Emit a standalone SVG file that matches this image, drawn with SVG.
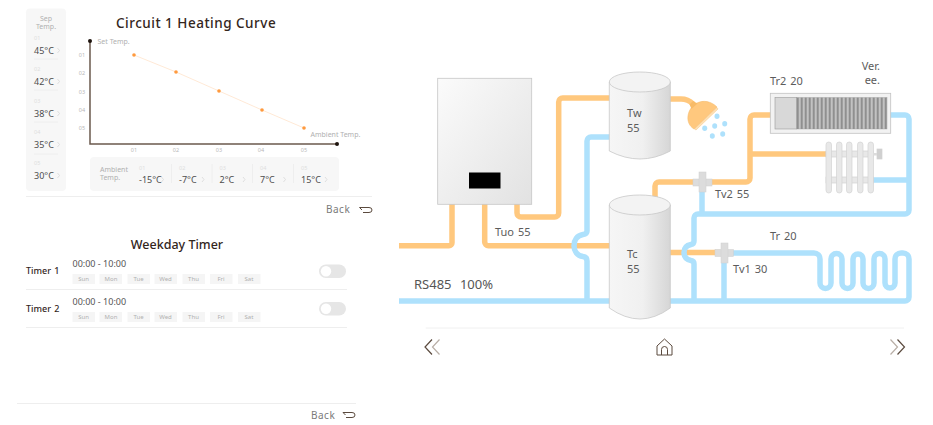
<svg xmlns="http://www.w3.org/2000/svg" width="933" height="425" viewBox="0 0 933 425">
<style>
text{font-family:"Noto Sans","Liberation Sans",sans-serif;fill:#555}
.t{fill:#33261c;font-weight:500;letter-spacing:.5px}
.lab{font-size:11px;fill:#5c5c5c;word-spacing:1px}
.mute{font-size:5.5px;fill:#dedede}
.ax{font-size:5.5px;fill:#b8b8b8;text-anchor:middle}
.cap{font-size:7px;fill:#b0b0b0}
.val{font-size:9px;fill:#4d4d4d}
.chev{fill:none;stroke:#d4d4d4;stroke-width:.7}
.panel{fill:#f7f7f7}
.rule{stroke:#eeeeee;stroke-width:1}
.pill{fill:#f5f5f5}
.day{font-size:6px;fill:#b0b0b0;text-anchor:middle}
.time{font-size:9px;fill:#555}
.name{font-size:9px;fill:#33261c;font-weight:500;word-spacing:1px}
.back{font-size:10px;fill:#7a7a7a;letter-spacing:.5px}
.ic{fill:none;stroke:#5b4a3e;stroke-width:1}
.or{fill:none;stroke:#ffc87e;stroke-width:5.500;stroke-linejoin:round}
.bl{fill:none;stroke:#aee1fc;stroke-width:5.500;stroke-linejoin:round}
.tank{fill:url(#tg);stroke:#c8c8c8;stroke-width:.8}
.top{fill:#f3f3f3;stroke:#c8c8c8;stroke-width:.8}
.fin{fill:#e8e8e8;stroke:#d2d2d2;stroke-width:.7}
.vv{fill:#dcdcdc;stroke:#d0d0d0;stroke-width:.5}
.drop{fill:#aee1fc}
</style>
<defs>
<linearGradient id="tg" x1="0" x2="1" y1="0" y2="0"><stop offset="0" stop-color="#f6f6f6"/><stop offset=".55" stop-color="#f0f0f0"/><stop offset="1" stop-color="#d6d6d6"/></linearGradient>
<linearGradient id="bg" x1="0" x2="1" y1="0" y2="1"><stop offset="0" stop-color="#fbfbfb"/><stop offset="1" stop-color="#e2e2e2"/></linearGradient>
<pattern id="st" width="4" height="10" patternUnits="userSpaceOnUse" x="796.500"><rect width="4" height="10" fill="#d8d8d8"/><rect width="2.600" height="10" fill="#8f8f8f"/></pattern>
</defs>
<rect width="933" height="425" fill="#fff"/>

<g id="curve-panel">
<text class="t" x="116" y="28" font-size="13.500">Circuit 1 Heating Curve</text>
<rect class="panel" x="26" y="8.500" width="40" height="182.500" rx="4"/>
<text class="cap" x="46" y="21" text-anchor="middle" font-size="6.500">Sep</text>
<text class="cap" x="46" y="29" text-anchor="middle">Temp.</text>
<g>
<text class="mute" x="34" y="40">01</text><text class="val" x="34" y="54">45°C</text><path class="chev" d="M57.500 48l2 2.500l-2 2.500"/><line class="rule" x1="34" x2="58" y1="59" y2="59"/>
<text class="mute" x="34" y="71">02</text><text class="val" x="34" y="85">42°C</text><path class="chev" d="M57.500 79l2 2.500l-2 2.500"/><line class="rule" x1="34" x2="58" y1="90" y2="90"/>
<text class="mute" x="34" y="103">03</text><text class="val" x="34" y="117">38°C</text><path class="chev" d="M57.500 111l2 2.500l-2 2.500"/><line class="rule" x1="34" x2="58" y1="122" y2="122"/>
<text class="mute" x="34" y="134">04</text><text class="val" x="34" y="148">35°C</text><path class="chev" d="M57.500 142l2 2.500l-2 2.500"/><line class="rule" x1="34" x2="58" y1="154" y2="154"/>
<text class="mute" x="34" y="165">05</text><text class="val" x="34" y="179">30°C</text><path class="chev" d="M57.500 173l2 2.500l-2 2.500"/>
</g>
<path d="M90 41V144H337" fill="none" stroke="#6b5a4e" stroke-width="1.500"/>
<circle cx="90" cy="41" r="2" fill="#1e140e"/><circle cx="337" cy="144" r="2" fill="#1e140e"/>
<text class="cap" x="97.500" y="44">Set Temp.</text>
<text class="cap" x="310.500" y="137">Ambient Temp.</text>
<polyline points="134,55 176,72 219,91 262,110 304,128" fill="none" stroke="#ffe3cb" stroke-width=".8"/>
<g fill="#ff9a3e"><circle cx="134" cy="55" r="1.800"/><circle cx="176" cy="72" r="1.800"/><circle cx="219" cy="91" r="1.800"/><circle cx="262" cy="110" r="1.800"/><circle cx="304" cy="128" r="1.800"/></g>
<text class="ax" x="82" y="57">01</text><text class="ax" x="82" y="75">02</text><text class="ax" x="82" y="94">03</text><text class="ax" x="82" y="112">04</text><text class="ax" x="82" y="130">05</text>
<text class="ax" x="134" y="152">01</text><text class="ax" x="176" y="152">02</text><text class="ax" x="219" y="152">03</text><text class="ax" x="261" y="152">04</text><text class="ax" x="304" y="152">05</text>
<rect class="panel" x="90" y="157" width="249" height="34" rx="4"/>
<text class="cap" x="100" y="172">Ambient</text><text class="cap" x="100" y="180">Temp.</text>
<text class="mute" x="139" y="170">01</text><text class="val" x="139" y="183">-15°C</text><path class="chev" d="M161.500 177l2 2.500l-2 2.500"/><line class="rule" x1="171.500" x2="171.500" y1="164" y2="183"/>
<text class="mute" x="179" y="170">02</text><text class="val" x="179" y="183">-7°C</text><path class="chev" d="M202 177l2 2.500l-2 2.500"/><line class="rule" x1="212" x2="212" y1="164" y2="183"/>
<text class="mute" x="219.500" y="170">03</text><text class="val" x="219.500" y="183">2°C</text><path class="chev" d="M243 177l2 2.500l-2 2.500"/><line class="rule" x1="252.500" x2="252.500" y1="164" y2="183"/>
<text class="mute" x="260" y="170">04</text><text class="val" x="260" y="183">7°C</text><path class="chev" d="M283.500 177l2 2.500l-2 2.500"/><line class="rule" x1="293.500" x2="293.500" y1="164" y2="183"/>
<text class="mute" x="301" y="170">05</text><text class="val" x="301" y="183">15°C</text><path class="chev" d="M325 177l2 2.500l-2 2.500"/>
<line class="rule" x1="26" x2="372" y1="196.500" y2="196.500"/>
<text class="back" x="326" y="213">Back</text>
<path class="ic" d="M364 207.500h-4.500l2.500 2.500M360 207.500h9q3 0 3 2.500t-3 2.500h-6"/>
</g>

<g id="timer-panel">
<text class="t" x="177" y="249" font-size="12.500" text-anchor="middle" style="letter-spacing:0">Weekday Timer</text>
<g id="timer-1">
<text class="name" x="26" y="274">Timer 1</text>
<text class="time" x="72.500" y="267">00:00 - 10:00</text>
<rect class="pill" x="72.500" y="274" width="22.500" height="10"/><text class="day" x="83.500" y="281">Sun</text>
<rect class="pill" x="99.500" y="274" width="22.500" height="10"/><text class="day" x="111" y="281">Mon</text>
<rect class="pill" x="127.500" y="274" width="22.500" height="10"/><text class="day" x="138.500" y="281">Tue</text>
<rect class="pill" x="154.500" y="274" width="22.500" height="10"/><text class="day" x="165.500" y="281">Wed</text>
<rect class="pill" x="182.500" y="274" width="22.500" height="10"/><text class="day" x="193.500" y="281">Thu</text>
<rect class="pill" x="210" y="274" width="22.500" height="10"/><text class="day" x="221" y="281">Fri</text>
<rect class="pill" x="238" y="274" width="22.500" height="10"/><text class="day" x="249" y="281">Sat</text>
<rect x="319" y="264.500" width="27" height="13.500" rx="6.750" fill="#e6e6e6"/><circle cx="326" cy="271.200" r="5.200" fill="#fff"/>
<line class="rule" x1="26" x2="347" y1="289.500" y2="289.500"/>
</g>
<g id="timer-2">
<text class="name" x="26" y="312">Timer 2</text>
<text class="time" x="72.500" y="305">00:00 - 10:00</text>
<rect class="pill" x="72.500" y="312" width="22.500" height="10"/><text class="day" x="83.500" y="319">Sun</text>
<rect class="pill" x="99.500" y="312" width="22.500" height="10"/><text class="day" x="111" y="319">Mon</text>
<rect class="pill" x="127.500" y="312" width="22.500" height="10"/><text class="day" x="138.500" y="319">Tue</text>
<rect class="pill" x="154.500" y="312" width="22.500" height="10"/><text class="day" x="165.500" y="319">Wed</text>
<rect class="pill" x="182.500" y="312" width="22.500" height="10"/><text class="day" x="193.500" y="319">Thu</text>
<rect class="pill" x="210" y="312" width="22.500" height="10"/><text class="day" x="221" y="319">Fri</text>
<rect class="pill" x="238" y="312" width="22.500" height="10"/><text class="day" x="249" y="319">Sat</text>
<rect x="319" y="302" width="27" height="13.500" rx="6.750" fill="#e6e6e6"/><circle cx="326" cy="308.700" r="5.200" fill="#fff"/>
<line class="rule" x1="26" x2="347" y1="327.500" y2="327.500"/>
</g>
<line class="rule" x1="17" x2="356" y1="403.500" y2="403.500"/>
<text class="back" x="311" y="419">Back</text>
<path class="ic" d="M347 412.500h-4l2.500 2.500M343 412.500h9q3 0 3 2.500t-3 2.500h-6"/>
</g>

<g id="connectors">
<path class="or" d="M399 245.700H449a3 3 0 0 0 3-3V204"/>
<path class="or" d="M484.700 204V242a3.700 3.700 0 0 0 3.700 3.700H612"/>
<path class="or" d="M517 204V213a4 4 0 0 0 4 4H554.700a4 4 0 0 0 4-4V102a4 4 0 0 1 4-4H612"/>
<path class="or" d="M655 206V186a4 4 0 0 1 4-4H746a4 4 0 0 0 4-4V119a4 4 0 0 1 4-4H772"/>
<path class="or" d="M750 154H828"/>
<path class="or" d="M668 99H681q7 0 12 5"/>
<path class="or" d="M668 252.500H720"/>
<path class="bl" d="M612 137H591a4 4 0 0 0-4 4V231Q587 234 583 234.500C577 235.500 574 240 574 245.700C574 251 577 255.500 583 256.500Q587 257 587 261V301"/>
<path class="bl" d="M399 301H612"/>
<path class="bl" d="M702 186V214"/>
<path class="bl" d="M888 115H905a4 4 0 0 1 4 4V210a4 4 0 0 1-4 4H698a4 4 0 0 0-4 4V241Q694 244 691 244.500C686 245.500 684 249 684 252.500C684 256 686 259.500 691 260.500Q694 261 694 264V301"/>
<path class="bl" d="M870 180H909"/>
<path class="bl" d="M724 253H814a6 6 0 0 1 6 6V283a5.500 5.500 0 0 0 11 0V259a5.500 5.500 0 0 1 11 0V283a5.500 5.500 0 0 0 11 0V259a5 5 0 0 1 10 0V283a5.500 5.500 0 0 0 11 0V259a5.500 5.500 0 0 1 11 0V283a5 5 0 0 0 10 0V259a6 6 0 0 1 6-6H903a6 6 0 0 1 6 6V297a4 4 0 0 1-4 4H668"/>
<path class="bl" d="M724 253V301"/>
</g>

<g id="boiler">
<rect x="437.700" y="78.300" width="94" height="126" fill="url(#bg)" stroke="#c6c6c6" stroke-width=".8"/>
<rect x="469" y="172.500" width="31.500" height="16" fill="#000"/>
</g>
<g id="tank-tw">
<path class="tank" d="M609.300 82V151Q625 159 640 159T670.300 151V82Z"/>
<ellipse class="top" cx="639.800" cy="82" rx="30.500" ry="10"/>
<text class="lab" x="627" y="117">Tw</text><text class="lab" x="627" y="132">55</text>
</g>
<g id="tank-tc">
<path class="tank" d="M609.300 205V308Q625 319 640 319T670.300 308V205Z"/>
<ellipse class="top" cx="639.800" cy="205" rx="30.500" ry="10"/>
<text class="lab" x="627" y="258">Tc</text><text class="lab" x="627" y="273">55</text>
</g>
<g id="shower">
<path d="M694 129C684 123 687 108 697 103C703 100 711 101 717 107Z" fill="#ffc87e" stroke="#f3b766" stroke-width=".5"/>
<path d="M694.500 129L717 107.500L718 109L696 130Z" fill="#ffe3b8" stroke="#f3b766" stroke-width=".4"/>
<path d="M689.500 104.500L693 101L697.500 103.500L691.500 109Z" fill="#f8bb68"/>
<g class="drop"><ellipse cx="717" cy="116.300" rx="2.500" ry="2.700"/><ellipse cx="724.700" cy="123.700" rx="2.500" ry="2.700"/><ellipse cx="714.700" cy="126" rx="2.500" ry="2.700"/><ellipse cx="722.700" cy="134" rx="2.500" ry="2.700"/><ellipse cx="704.700" cy="128.300" rx="2.500" ry="2.700"/><ellipse cx="712.300" cy="136" rx="2.500" ry="2.700"/></g>
</g>
<g id="fan-coil">
<rect x="770.300" y="93.300" width="120.400" height="40" fill="#f2f2f2" stroke="#c2c2c2" stroke-width=".8"/>
<rect x="775" y="97.500" width="21.500" height="31.500" fill="#d8d8d8" stroke="#9a9a9a" stroke-width=".6"/>
<rect x="796.500" y="97.500" width="90.500" height="31.500" fill="url(#st)" stroke="#9a9a9a" stroke-width=".4"/>
<text class="lab" x="770" y="85">Tr2 20</text>
<text class="lab" x="880" y="70" text-anchor="end">Ver.</text>
<text class="lab" x="880" y="84" text-anchor="end">ee.</text>
</g>
<g id="radiator">
<rect class="fin" x="826" y="151" width="47" height="6"/><rect class="fin" x="826" y="177" width="47" height="6"/>
<rect class="fin" x="826" y="142" width="5.500" height="51" rx="2.700"/><rect class="fin" x="836.500" y="142" width="5.500" height="51" rx="2.700"/><rect class="fin" x="846.500" y="142" width="5.500" height="51" rx="2.700"/><rect class="fin" x="857.500" y="142" width="5.500" height="51" rx="2.700"/><rect class="fin" x="868" y="142" width="5.500" height="51" rx="2.700"/>
<rect class="fin" x="877" y="149" width="5" height="10" style="fill:#d0d0d0"/>
<rect x="873" y="153" width="4" height="2.500" fill="#dcdcdc"/>
</g>
<g id="valve-tv2">
<rect class="vv" x="693" y="179" width="19" height="7"/><rect class="vv" x="699" y="172" width="7" height="20"/>
<text class="lab" x="715" y="198">Tv2 55</text>
</g>
<g id="valve-tv1">
<rect class="vv" x="715" y="249.500" width="18.500" height="7"/><rect class="vv" x="721" y="243" width="7" height="20"/>
<text class="lab" x="733" y="273">Tv1 30</text>
</g>
<text class="lab" x="495" y="236">Tuo 55</text>
<text class="lab" x="770" y="240">Tr 20</text>
<text x="414" y="289" font-size="13" style="word-spacing:5px">RS485 100%</text>

<g id="nav">
<line x1="425.700" x2="904" y1="328" y2="328" stroke="#f0f0f0"/>
<path d="M432 339.500L425 347L432 354.500" fill="none" stroke="#5b4a3e" stroke-width="1.200"/>
<path d="M439.500 339.500L432.500 347L439.500 354.500" fill="none" stroke="#b8aea6" stroke-width="1.200"/>
<path d="M664.500 339L657 346V355H672V346ZM661.500 355V349.500a3 3 0 0 1 6 0V355" fill="none" stroke="#5b4a3e" stroke-width="1"/>
<path d="M890.500 339.500L897.500 347L890.500 354.500" fill="none" stroke="#b8aea6" stroke-width="1.200"/>
<path d="M897.500 339.500L904.500 347L897.500 354.500" fill="none" stroke="#5b4a3e" stroke-width="1.200"/>
</g>
</svg>
